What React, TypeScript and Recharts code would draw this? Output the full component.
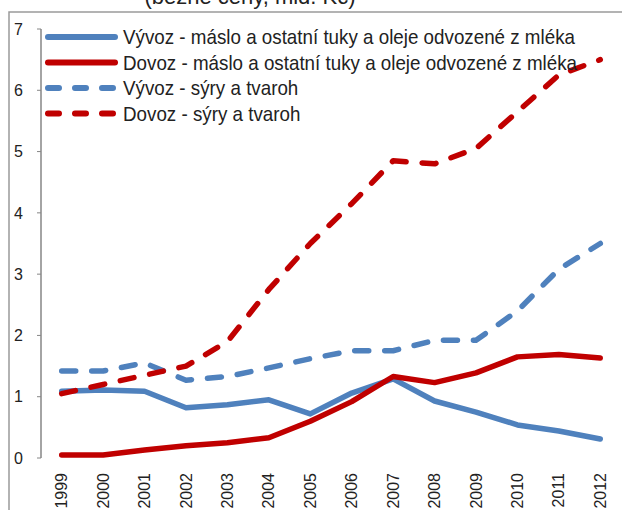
import React from 'react';
import { LineChart, Line, XAxis, YAxis } from 'recharts';

const YEARS = ['1999', '2000', '2001', '2002', '2003', '2004', '2005', '2006', '2007', '2008', '2009', '2010', '2011', '2012'];

const EXPORT_BUTTER = [1.09, 1.11, 1.09, 0.82, 0.87, 0.95, 0.72, 1.06, 1.29, 0.93, 0.75, 0.54, 0.44, 0.31];
const IMPORT_BUTTER = [0.05, 0.05, 0.13, 0.2, 0.25, 0.33, 0.6, 0.92, 1.33, 1.23, 1.39, 1.65, 1.69, 1.63];
const EXPORT_CHEESE = [1.42, 1.42, 1.55, 1.27, 1.33, 1.47, 1.62, 1.75, 1.75, 1.92, 1.92, 2.4, 3.08, 3.5];
const IMPORT_CHEESE = [1.05, 1.2, 1.35, 1.5, 1.9, 2.75, 3.5, 4.15, 4.85, 4.8, 5.05, 5.65, 6.25, 6.5];

const Y_TICKS = [0, 1, 2, 3, 4, 5, 6, 7];
const TITLE = '(běžné ceny, mld. Kč)';

const SERIES = [
  { key: 'vb', name: 'Vývoz - máslo a ostatní tuky a oleje odvozené z mléka', color: '#4F81BD', dash: undefined, values: EXPORT_BUTTER },
  { key: 'db', name: 'Dovoz - máslo a ostatní tuky a oleje odvozené z mléka', color: '#C00000', dash: undefined, values: IMPORT_BUTTER },
  { key: 'vc', name: 'Vývoz - sýry a tvaroh', color: '#4F81BD', dash: '14 16', values: EXPORT_CHEESE },
  { key: 'dc', name: 'Dovoz - sýry a tvaroh', color: '#C00000', dash: '14 16', values: IMPORT_CHEESE },
];

const data = YEARS.map((year, i) => {
  const row: Record<string, number | string> = { i, year };
  SERIES.forEach((s) => { row[s.key] = s.values[i]; });
  return row;
});

const FONT = '"Liberation Sans", Arial, sans-serif';

const YearTick = (props: any) => {
  const { x, y, payload } = props;
  return (
    <text
      x={0}
      y={0}
      dy="0.35em"
      transform={`translate(${x},${y + 7}) rotate(-90)`}
      textAnchor="end"
      fontSize={16}
      fontFamily={FONT}
      fill="#222"
    >
      {YEARS[payload.value]}
    </text>
  );
};

function ChartLegend() {
  return (
    <svg width={600} height={130} style={{ position: 'absolute', left: 0, top: 0, pointerEvents: 'none' }}>
      {SERIES.map((s, idx) => {
        const cy = 37 + idx * 25.5;
        return (
          <g key={s.key}>
            <line
              x1={48}
              x2={115}
              y1={cy}
              y2={cy}
              stroke={s.color}
              strokeWidth={6}
              strokeLinecap="round"
              strokeDasharray={s.dash ? '11 16' : undefined}
            />
            <text
              x={0}
              y={0}
              dy="0.35em"
              transform={`translate(123,${cy}) scale(1,1.12)`}
              fontSize={18.8}
              fontFamily={FONT}
              fill="#222"
            >
              {s.name}
            </text>
          </g>
        );
      })}
    </svg>
  );
}

export default function App() {
  return (
    <div style={{ position: 'absolute', left: 0, top: 0, width: 622, height: 510, overflow: 'hidden', background: '#fff' }}>
      <svg width={622} height={510} style={{ position: 'absolute', left: 0, top: 0 }}>
        <text x={250} y={4} textAnchor="middle" fontSize={22} fontFamily={FONT} fill="#222">
          {TITLE}
        </text>
        <polyline points="9,512 9,12 624,12" fill="none" stroke="#9a9a9a" strokeWidth={1.5} />
      </svg>
      <div style={{ position: 'absolute', left: 0, top: 0 }}>
        <LineChart width={622} height={510} data={data} margin={{ top: 29, right: 1, bottom: 0, left: 0 }}>
          <XAxis
            xAxisId={0}
            type="number"
            dataKey="i"
            domain={[-0.5, 13.5]}
            ticks={[-0.5, 0.5, 1.5, 2.5, 3.5, 4.5, 5.5, 6.5, 7.5, 8.5, 9.5, 10.5, 11.5, 12.5, 13.5]}
            interval={0}
            height={0}
            tickSize={6}
            tickFormatter={() => ''}
            stroke="#868686"
            axisLine={{ stroke: '#868686', strokeWidth: 1.5 }}
            tickLine={{ stroke: '#868686' }}
          />
          <XAxis
            xAxisId="lab"
            type="number"
            dataKey="i"
            domain={[-0.5, 13.5]}
            ticks={YEARS.map((_, i) => i)}
            interval={0}
            height={52}
            axisLine={false}
            tickLine={false}
            tick={<YearTick />}
          />
          <YAxis
            domain={[0, 7]}
            ticks={Y_TICKS}
            interval={0}
            width={41}
            tickSize={4}
            tickMargin={14}
            axisLine={{ stroke: '#868686', strokeWidth: 1.5 }}
            tickLine={{ stroke: '#868686' }}
            tick={{ fontSize: 16, fontFamily: FONT, fill: '#222' }}
          />
          {SERIES.map((s) => (
            <Line
              key={s.key}
              dataKey={s.key}
              name={s.name}
              type="linear"
              stroke={s.color}
              strokeWidth={5.5}
              strokeDasharray={s.dash}
              strokeLinecap="round"
              strokeLinejoin="round"
              dot={false}
              activeDot={false}
              isAnimationActive={false}
            />
          ))}
        </LineChart>
      </div>
      <ChartLegend />
    </div>
  );
}
